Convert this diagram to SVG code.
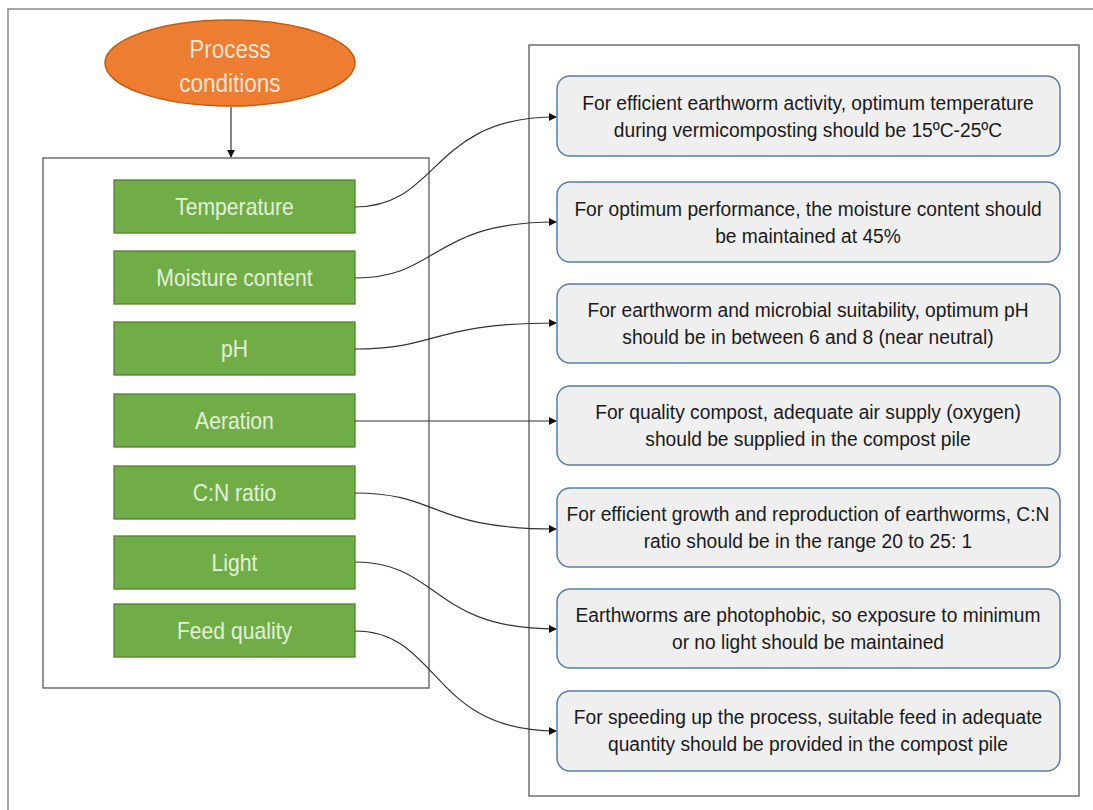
<svg xmlns="http://www.w3.org/2000/svg" width="1093" height="810" viewBox="0 0 1093 810">
<defs>
<style>
.frame{fill:none;stroke:#8c8c8c;stroke-width:1.5}
.box{fill:#ffffff;stroke:#595959;stroke-width:1.3}
.g{fill:#70ad47;stroke:#548235;stroke-width:1.3}
.gt{font-family:"Liberation Sans",Arial,sans-serif;font-size:23px;fill:#e2f0d9;text-anchor:middle}
.tb{fill:#efefef;stroke:#5b7fa6;stroke-width:1.5}
.tt{font-family:"Liberation Sans",Arial,sans-serif;font-size:20px;fill:#1a1a1a;text-anchor:middle}
.pt{font-family:"Liberation Sans",Arial,sans-serif;font-size:25px;fill:#fbe5d6;text-anchor:middle}
.c{fill:none;stroke:#333;stroke-width:1.2;marker-end:url(#ah)}
</style>
<marker id="ah" viewBox="0 0 10 10" refX="9" refY="5" markerWidth="8" markerHeight="8" markerUnits="userSpaceOnUse" orient="auto">
<path d="M0,0 L10,5 L0,10 z" fill="#111"/>
</marker>
</defs>
<rect width="1093" height="810" fill="#ffffff"/>
<path class="frame" d="M8,820 L8,9 L1100,9"/>
<g id="left-panel"><rect class="box" x="43" y="158" width="386" height="530"/></g>
<g id="right-panel"><rect class="box" x="529" y="45" width="550" height="751"/></g>
<g id="process-conditions">
<ellipse cx="230" cy="63" rx="125" ry="43" fill="#ed7d31" stroke="#c55a11" stroke-width="1.5"/>
<g transform="matrix(0.9 0 0 1 23 0)">
<text class="pt" x="230" y="58">Process</text>
<text class="pt" x="230" y="92">conditions</text>
</g>
</g>
<g id="n-temperature"><rect class="g" x="114" y="180" width="241" height="53"/><text class="gt" x="234.5" y="215" transform="matrix(0.92 0 0 1 18.76 0)">Temperature</text></g>
<g id="n-moisture"><rect class="g" x="114" y="251" width="241" height="53"/><text class="gt" x="234.5" y="286" transform="matrix(0.92 0 0 1 18.76 0)">Moisture content</text></g>
<g id="n-ph"><rect class="g" x="114" y="322" width="241" height="53"/><text class="gt" x="234.5" y="357" transform="matrix(0.92 0 0 1 18.76 0)">pH</text></g>
<g id="n-aeration"><rect class="g" x="114" y="394" width="241" height="53"/><text class="gt" x="234.5" y="429" transform="matrix(0.92 0 0 1 18.76 0)">Aeration</text></g>
<g id="n-cn"><rect class="g" x="114" y="466" width="241" height="53"/><text class="gt" x="234.5" y="501" transform="matrix(0.92 0 0 1 18.76 0)">C:N ratio</text></g>
<g id="n-light"><rect class="g" x="114" y="536" width="241" height="53"/><text class="gt" x="234.5" y="571" transform="matrix(0.92 0 0 1 18.76 0)">Light</text></g>
<g id="n-feed"><rect class="g" x="114" y="604" width="241" height="53"/><text class="gt" x="234.5" y="639" transform="matrix(0.92 0 0 1 18.76 0)">Feed quality</text></g>

<g id="t-temperature"><rect class="tb" x="557" y="76" width="503" height="80" rx="13"/><g transform="matrix(0.96 0 0 1 32.32 0)"><text class="tt" x="808" y="110">For efficient earthworm activity, optimum temperature</text><text class="tt" x="808" y="137">during vermicomposting should be 15ºC-25ºC</text></g></g>
<g id="t-moisture"><rect class="tb" x="557" y="182" width="503" height="80" rx="13"/><g transform="matrix(0.96 0 0 1 32.32 0)"><text class="tt" x="808" y="216">For optimum performance, the moisture content should</text><text class="tt" x="808" y="243">be maintained at 45%</text></g></g>
<g id="t-ph"><rect class="tb" x="557" y="284" width="503" height="79" rx="13"/><g transform="matrix(0.96 0 0 1 32.32 0)"><text class="tt" x="808" y="317">For earthworm and microbial suitability, optimum pH</text><text class="tt" x="808" y="344">should be in between 6 and 8 (near neutral)</text></g></g>
<g id="t-aeration"><rect class="tb" x="557" y="386" width="503" height="79" rx="13"/><g transform="matrix(0.96 0 0 1 32.32 0)"><text class="tt" x="808" y="419">For quality compost, adequate air supply (oxygen)</text><text class="tt" x="808" y="446">should be supplied in the compost pile</text></g></g>
<g id="t-cn"><rect class="tb" x="557" y="488" width="503" height="79" rx="13"/><g transform="matrix(0.96 0 0 1 32.32 0)"><text class="tt" x="808" y="521">For efficient growth and reproduction of earthworms, C:N</text><text class="tt" x="808" y="548">ratio should be in the range 20 to 25: 1</text></g></g>
<g id="t-light"><rect class="tb" x="557" y="589" width="503" height="79" rx="13"/><g transform="matrix(0.96 0 0 1 32.32 0)"><text class="tt" x="808" y="622">Earthworms are photophobic, so exposure to minimum</text><text class="tt" x="808" y="649">or no light should be maintained</text></g></g>
<g id="t-feed"><rect class="tb" x="557" y="691" width="503" height="80" rx="13"/><g transform="matrix(0.96 0 0 1 32.32 0)"><text class="tt" x="808" y="724">For speeding up the process, suitable feed in adequate</text><text class="tt" x="808" y="751">quantity should be provided in the compost pile</text></g></g>

<g id="connectors">
<path class="c" d="M231,107 L231,157"/>
<path class="c" d="M355,207 C440,207 430,117 556,117"/>
<path class="c" d="M355,278 C440,278 430,222 556,222"/>
<path class="c" d="M355,349 C440,349 430,323 556,323"/>
<path class="c" d="M355,421 L556,421"/>
<path class="c" d="M355,493 C440,493 430,529 556,529"/>
<path class="c" d="M355,562 C440,562 430,629 556,629"/>
<path class="c" d="M355,631 C440,631 430,731 556,731"/>
</g>
</svg>
